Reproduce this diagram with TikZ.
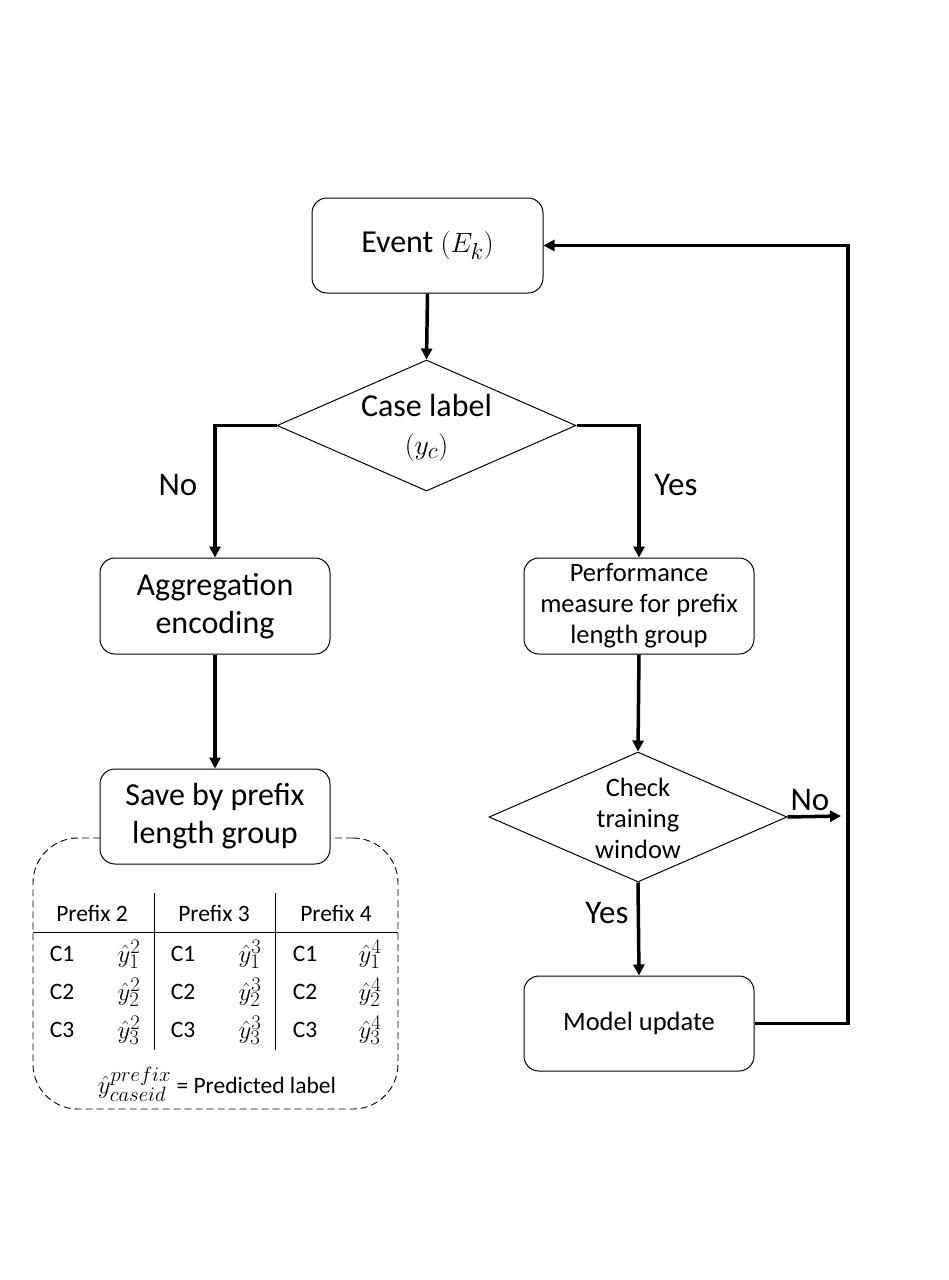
\documentclass[tikz,border=0pt]{standalone}
\usepackage{graphicx}
\usepackage{fontspec}
\setmainfont{Carlito}
\usetikzlibrary{shapes.geometric,arrows.meta}
\newcommand{\mybigmath}[1]{\scalebox{1.12}{$#1$}}
\begin{document}
\begin{tikzpicture}[x=1pt,y=-1pt,
  box/.style={draw,line width=1pt,rounded corners=15pt,fill=white,align=center,inner sep=0pt},
  dia/.style={draw,line width=1pt,diamond,inner sep=0pt},
  flow/.style={line width=3.5pt,-{Triangle[length=11pt,width=11pt]}},
  big/.style={font=\fontsize{32}{38}\selectfont},
  lbl/.style={font=\fontsize{33}{38}\selectfont},
  mid/.style={font=\fontsize{26.5}{31}\selectfont},
  cell/.style={font=\fontsize{23.5}{28}\selectfont,inner sep=0pt},
  mcell/.style={font=\fontsize{24.88}{28}\selectfont,inner sep=0pt}
]
\fill[white] (0,0) rectangle (949,1280);
\useasboundingbox (0,0) rectangle (949,1280);

% main nodes
\node[box,big,minimum width=231pt,minimum height=95pt] (ev) at (427.5,245.5) {Event \mybigmath{(E_k)}};
\node[dia,minimum width=299pt,minimum height=131pt] (d1) at (426.5,425.5) {};
\node[big,align=center] (d1t) at (426.5,428) {Case label\\\mybigmath{(y_c)}};

\node[box,big,minimum width=230pt,minimum height=96pt] (agg) at (215,606) {Aggregation\\encoding};

% dashed group
\node[draw,dash pattern=on 7pt off 4pt,line width=0.9pt,rounded corners=45pt,minimum width=365pt,minimum height=271pt,inner sep=0pt] (grp) at (215.5,973.5) {};
\node[box,big,minimum width=230pt,minimum height=95pt] (save) at (215,816.5) {Save by prefix\\length group};

\node[box,mid,minimum width=230pt,minimum height=96pt] (perf) at (639,606) {Performance\\measure for prefix\\length group};
\node[dia,minimum width=298pt,minimum height=130pt] (d2) at (638,817) {};
\node[mid,align=center] (d2t) at (638,818) {Check\\training\\window};
\node[box,mid,minimum width=230pt,minimum height=95pt] (mu) at (639,1023.5) {Model update};

% connectors
\draw[flow] (ev.south) -- (d1.north);
\draw[flow] (d1.west) -| (agg.north);
\draw[flow] (d1.east) -| (perf.north);
\draw[flow] (agg.south) -- (save.north);
\draw[flow] (perf.south) -- (d2.north);
\coordinate (noend) at (841,816);
\draw[flow] (d2.east) -- (noend);
\draw[flow] (d2.south) -- (mu.north);
\coordinate (c1) at (848,1023.5);
\coordinate (c2) at (848,245.5);
\draw[flow] (mu.east) -- (c1) -- (c2) -- (ev.east);

% labels
\node[lbl] (lno1) at (178,485) {No};
\node[lbl] (lyes1) at (676,485) {Yes};
\node[lbl] (lno2) at (810,800) {No};
\node[lbl] (lyes2) at (607,913) {Yes};

% table
\draw[line width=0.8pt] (33,932) -- (398,932);
\draw[line width=0.8pt] (154,893) -- (154,1050);
\draw[line width=0.8pt] (275,893) -- (275,1050);
\node[cell] (h2) at (92,913) {Prefix 2};
\node[cell] (h3) at (214,913) {Prefix 3};
\node[cell] (h4) at (336,913) {Prefix 4};
\foreach \r/\yy in {1/954,2/992,3/1030}{
  \node[cell] (a\r) at (62,\yy) {C\r};
  \node[mcell] (b\r) at (129,\yy) {$\hat{y}_{\r}^{2}$};
  \node[cell] (c\r) at (183,\yy) {C\r};
  \node[mcell] (d\r) at (250,\yy) {$\hat{y}_{\r}^{3}$};
  \node[cell] (e\r) at (305,\yy) {C\r};
  \node[mcell] (f\r) at (370,\yy) {$\hat{y}_{\r}^{4}$};
}
\node[cell] (leg) at (217,1084) {{\fontsize{24.88}{28}\selectfont$\hat{y}_{caseid}^{prefix}$} = Predicted label};
\end{tikzpicture}
\end{document}
